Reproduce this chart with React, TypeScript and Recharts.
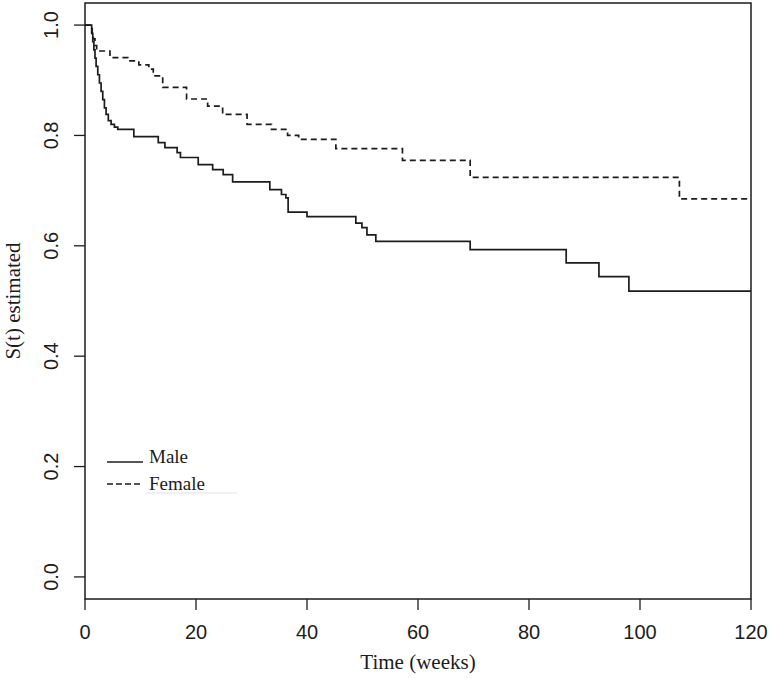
import React from "react";
import { ComposedChart, Line, ReferenceArea, XAxis, YAxis } from "recharts";

// Kaplan-Meier estimates (time in weeks, survival)
const maleTimes = [0, 1.2, 1.4, 1.6, 1.8, 2.0, 2.3, 2.6, 2.9, 3.2, 3.5, 3.8, 4.2, 4.7, 5.3, 5.9, 8.8, 13.2, 14.4, 16.6, 17.2, 20.4, 23.0, 24.9, 26.6, 33.3, 35.4, 36.2, 36.6, 40.0, 48.8, 49.9, 50.8, 52.4, 69.4, 86.7, 92.6, 98.0, 120];
const maleSurv = [1.0, 0.985, 0.97, 0.955, 0.94, 0.925, 0.91, 0.895, 0.88, 0.865, 0.85, 0.838, 0.827, 0.82, 0.815, 0.811, 0.798, 0.787, 0.778, 0.769, 0.76, 0.747, 0.738, 0.729, 0.716, 0.702, 0.693, 0.687, 0.661, 0.653, 0.641, 0.633, 0.62, 0.608, 0.593, 0.569, 0.544, 0.518, 0.518];

const femaleTimes = [0, 1.3, 1.5, 1.8, 2.1, 4.5, 7.7, 9.7, 11.5, 12.3, 14.0, 18.3, 22.1, 24.8, 29.2, 33.6, 36.5, 38.5, 45.2, 57.2, 69.4, 107.1, 120];
const femaleSurv = [1.0, 0.985, 0.975, 0.963, 0.953, 0.941, 0.935, 0.928, 0.92, 0.908, 0.887, 0.866, 0.853, 0.838, 0.82, 0.811, 0.8, 0.793, 0.776, 0.755, 0.724, 0.685, 0.685];

const xTicks = [0, 20, 40, 60, 80, 100, 120];
const yTicks = [0, 0.2, 0.4, 0.6, 0.8, 1.0];

const maleData = maleTimes.map((t, i) => ({ t, s: maleSurv[i] }));
const femaleData = femaleTimes.map((t, i) => ({ t, s: femaleSurv[i] }));

const SANS = "'Liberation Sans', Arial, sans-serif";
const SERIF = "'Liberation Serif', 'Times New Roman', serif";
const INK = "#1c1c1c";

const XTick = (props: any) => {
  const { x, y, payload } = props;
  return (
    <text x={x} y={y + 27} textAnchor="middle" fontFamily={SANS} fontSize={20} fill={INK}>
      {payload.value}
    </text>
  );
};

const YTick = (props: any) => {
  const { x, y, payload } = props;
  const bx = x - 14;
  return (
    <text x={bx} y={y} transform={`rotate(-90, ${bx}, ${y})`} textAnchor="middle" fontFamily={SANS} fontSize={20} fill={INK}>
      {Number(payload.value).toFixed(1)}
    </text>
  );
};

export default function App() {
  return (
    <div style={{ position: "absolute", left: 0, top: 0, width: 771, height: 678, background: "#fff" }}>
      <ComposedChart width={771} height={678} margin={{ top: 3, right: 20, bottom: 0, left: 0 }}>
        <XAxis
          type="number"
          dataKey="t"
          domain={[0, 120]}
          ticks={xTicks}
          height={79}
          axisLine={false}
          tickLine={{ stroke: INK, strokeWidth: 1.3 }}
          tickSize={11}
          tick={<XTick />}
          allowDataOverflow
          label={{
            content: (p: any) => {
              const vb = p.viewBox;
              return (
                <text x={vb.x + vb.width / 2} y={669} textAnchor="middle" fontFamily={SERIF} fontSize={21} fill={INK}>
                  Time (weeks)
                </text>
              );
            },
          }}
        />
        <YAxis
          type="number"
          domain={[-0.04, 1.04]}
          ticks={yTicks}
          width={85}
          axisLine={false}
          tickLine={{ stroke: INK, strokeWidth: 1.3 }}
          tickSize={11}
          tick={<YTick />}
          allowDataOverflow
          label={{
            content: (p: any) => {
              const vb = p.viewBox;
              const cy = vb.y + vb.height / 2;
              return (
                <text x={20} y={cy} transform={`rotate(-90, 20, ${cy})`} textAnchor="middle" fontFamily={SERIF} fontSize={21} fill={INK}>
                  S(t) estimated
                </text>
              );
            },
          }}
        />
        <ReferenceArea x1={0} x2={120} y1={-0.04} y2={1.04} fill="none" fillOpacity={0} stroke={INK} strokeWidth={1.5} ifOverflow="visible" />
        <Line
          data={maleData}
          dataKey="s"
          type="stepAfter"
          stroke={INK}
          strokeWidth={1.7}
          dot={false}
          activeDot={false}
          isAnimationActive={false}
        />
        <Line
          data={femaleData}
          dataKey="s"
          type="stepAfter"
          stroke={INK}
          strokeWidth={1.7}
          strokeDasharray="6 4"
          dot={false}
          activeDot={false}
          isAnimationActive={false}
        />
      </ComposedChart>
      <svg width={160} height={60} style={{ position: "absolute", left: 100, top: 440 }}>
        <line x1={7} x2={43} y1={22} y2={22} stroke={INK} strokeWidth={1.7} />
        <text x={49} y={23} fontFamily={SERIF} fontSize={19} fill={INK}>Male</text>
        <line x1={7} x2={43} y1={44} y2={44} stroke={INK} strokeWidth={1.7} strokeDasharray="6 3" />
        <text x={49} y={50} fontFamily={SERIF} fontSize={19} fill={INK}>Female</text>
        <line x1={45} x2={137} y1={53} y2={53} stroke="#e2e2e2" strokeWidth={1} />
      </svg>
    </div>
  );
}
